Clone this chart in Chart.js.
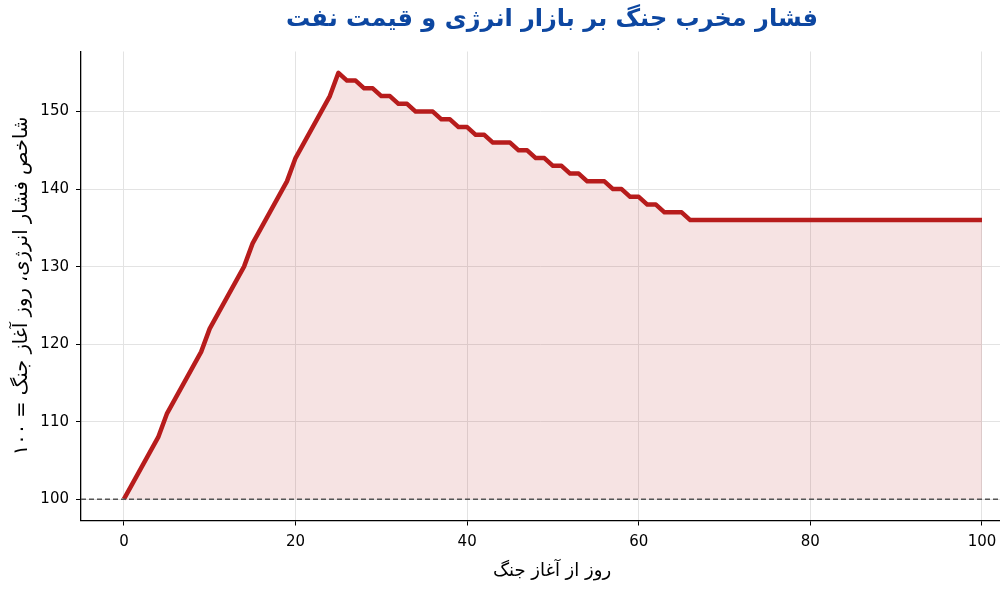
<!DOCTYPE html>
<html><head><meta charset="utf-8">
<script src="https://cdn.jsdelivr.net/npm/chart.js@4.4.0/dist/chart.umd.min.js"></script>
<style>html,body{margin:0;padding:0;background:#fff;overflow:hidden}#wrap{width:1000px;height:600px;position:relative}</style>
</head><body><div id="wrap"><canvas id="c" width="1000" height="600"></canvas></div>
<script>
const TITLE = 'فشار مخرب جنگ بر بازار انرژی و قیمت نفت';
const X_TITLE = 'روز از آغاز جنگ';
const Y_TITLE = 'شاخص فشار انرژی، روز آغاز جنگ = ۱۰۰';

const days = [0,1,2,3,4,5,6,7,8,9,10,11,12,13,14,15,16,17,18,19,20,21,22,23,24,25,26,27,28,29,30,31,32,33,34,35,36,37,38,39,40,41,42,43,44,45,46,47,48,49,50,51,52,53,54,55,56,57,58,59,60,61,62,63,64,65,66,67,68,69,70,71,72,73,74,75,76,77,78,79,80,81,82,83,84,85,86,87,88,89,90,91,92,93,94,95,96,97,98,99,100];
const pressureIndex = [
 100,102,104,106,108,111,113,115,117,119,
 122,124,126,128,130,133,135,137,139,141,
 144,146,148,150,152,155,154,154,153,153,
 152,152,151,151,150,150,150,149,149,148,
 148,147,147,146,146,146,145,145,144,144,
 143,143,142,142,141,141,141,140,140,139,
 139,138,138,137,137,137,136,136,136,136,
 136,136,136,136,136,136,136,136,136,136,
 136,136,136,136,136,136,136,136,136,136,
 136,136,136,136,136,136,136,136,136,136,
 136];
const xTicks = [0,20,40,60,80,100];
const yTicks = [100,110,120,130,140,150];
const baseline = 100;

const FONT = '"DejaVu Sans", sans-serif';

const decor = {
  id: 'decor',
  afterDatasetsDraw(chart) {
    const ctx = chart.ctx, a = chart.chartArea, y = chart.scales.y.getPixelForValue(baseline);
    ctx.save();
    ctx.strokeStyle = '#555';
    ctx.lineWidth = 1.4;
    ctx.setLineDash([5, 3]);
    ctx.beginPath(); ctx.moveTo(a.left, y); ctx.lineTo(a.right, y); ctx.stroke();
    ctx.restore();
  },
  afterDraw(chart) {
    const ctx = chart.ctx, a = chart.chartArea;
    ctx.save();
    ctx.direction = 'rtl';
    ctx.textAlign = 'center';
    ctx.textBaseline = 'middle';
    ctx.fillStyle = '#0d47a1';
    ctx.font = 'bold 24px ' + FONT;
    ctx.fillText(TITLE, 552, 20);
    ctx.fillStyle = '#000';
    ctx.font = '18px ' + FONT;
    ctx.fillText(X_TITLE, 552, 571);
    ctx.translate(22, (a.top + a.bottom) / 2);
    ctx.rotate(-Math.PI / 2);
    ctx.font = '19.5px ' + FONT;
    ctx.fillText(Y_TITLE, 0, 0);
    ctx.restore();
  }
};

new Chart(document.getElementById('c'), {
  type: 'line',
  data: {
    datasets: [{
      data: days.map((d, i) => ({x: d, y: pressureIndex[i]})),
      borderColor: '#b71c1c',
      borderWidth: 4.5,
      borderJoinStyle: 'round',
      backgroundColor: 'rgba(183,28,28,0.12)',
      fill: {value: baseline},
      pointRadius: 0,
      tension: 0
    }]
  },
  options: {
    responsive: false,
    animation: false,
    layout: {padding: {top: 51.5, left: 0, right: 0, bottom: 0}},
    plugins: {legend: {display: false}, tooltip: {enabled: false}, title: {display: false}},
    scales: {
      x: {
        type: 'linear',
        min: -5, max: 102.1,
        afterFit(s) { s.height = 79.5; s.paddingRight = 0; s.paddingLeft = 0; },
        afterBuildTicks(s) { s.ticks = xTicks.map(v => ({value: v})); },
        grid: {color: '#e3e3e3', lineWidth: 1, tickColor: '#000', tickLength: 5, drawTicks: true},
        border: {color: '#000', width: 1.3},
        ticks: {color: '#000', font: {family: FONT, size: 15}, padding: 8, maxRotation: 0}
      },
      y: {
        min: 97.25, max: 157.75,
        afterFit(s) { s.width = 81; s.paddingTop = 0; s.paddingBottom = 0; },
        afterBuildTicks(s) { s.ticks = yTicks.map(v => ({value: v})); },
        grid: {color: '#e3e3e3', lineWidth: 1, tickColor: '#000', tickLength: 5, drawTicks: true},
        border: {color: '#000', width: 1.3},
        ticks: {color: '#000', font: {family: FONT, size: 15}, padding: 7}
      }
    }
  },
  plugins: [decor]
});
</script></body></html>
